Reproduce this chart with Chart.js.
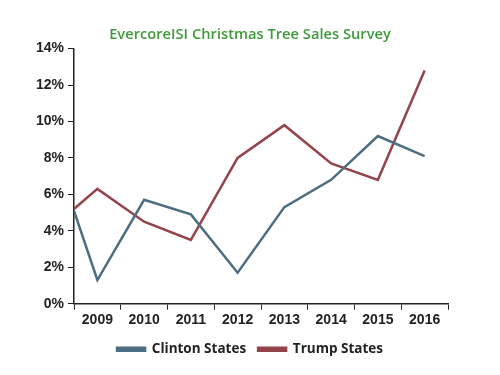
<!DOCTYPE html>
<html>
<head>
<meta charset="utf-8">
<script src="https://cdn.jsdelivr.net/npm/chart.js@4"></script>
<style>
  html, body { margin: 0; padding: 0; background: #fff; }
  #wrap { width: 500px; height: 375px; }
</style>
</head>
<body>
<div id="wrap"><canvas id="grafico" width="500" height="375"></canvas></div>
<script>
const anos = ['2009', '2010', '2011', '2012', '2013', '2014', '2015', '2016'];
// first point sits on the y axis, the rest on each year's centre
const posicoes = [-0.5, 0, 1, 2, 3, 4, 5, 6, 7];
const clinton = [5.1, 1.3, 5.7, 4.9, 1.7, 5.3, 6.8, 9.2, 8.1];
const trump = [5.2, 6.3, 4.5, 3.5, 8.0, 9.8, 7.7, 6.8, 12.8];
const yTicks = [0, 2, 4, 6, 8, 10, 12, 14];

const pontos = vals => vals.map((v, i) => ({ x: posicoes[i], y: v }));

const fonteEixo = { family: 'Liberation Sans', size: 14, weight: 'bold' };

const config = {
  type: 'line',
  data: {
    datasets: [
      {
        label: 'Clinton States',
        data: pontos(clinton),
        borderColor: '#4d6d82',
        backgroundColor: '#4d6d82',
        borderWidth: 2.5,
        pointRadius: 0,
        tension: 0
      },
      {
        label: 'Trump States',
        data: pontos(trump),
        borderColor: '#94454c',
        backgroundColor: '#94454c',
        borderWidth: 2.5,
        pointRadius: 0,
        tension: 0
      }
    ]
  },
  options: {
    responsive: false,
    animation: false,
    layout: { padding: { left: 0, right: 0, top: 4, bottom: 9 } },
    plugins: {
      title: {
        display: true,
        text: 'EvercoreISI Christmas Tree Sales Survey',
        color: '#3f9a3c',
        font: { family: 'Open Sans', size: 14.7, weight: '600' },
        padding: { top: 22, bottom: 5 }
      },
      legend: {
        position: 'bottom',
        labels: {
          boxWidth: 28,
          boxHeight: 3,
          color: '#222',
          padding: 12,
          font: { family: 'Open Sans', size: 13.5, weight: 'bold' }
        }
      },
      tooltip: { enabled: false }
    },
    scales: {
      x: {
        type: 'linear',
        min: -0.5,
        max: 7.5,
        afterBuildTicks: s => {
          const t = [];
          for (let v = -0.5; v <= 7.5; v += 0.5) t.push({ value: v });
          s.ticks = t;
        },
        ticks: {
          autoSkip: false,
          maxRotation: 0,
          color: '#222',
          font: fonteEixo,
          padding: 2,
          callback: v => Number.isInteger(v) ? anos[v] : ''
        },
        grid: {
          drawOnChartArea: false,
          tickLength: 6,
          tickColor: ctx => Number.isInteger(ctx.tick.value) ? 'rgba(0,0,0,0)' : '#222'
        },
        border: { color: '#222', width: 1.5 }
      },
      y: {
        min: 0,
        max: 14,
        afterBuildTicks: s => { s.ticks = yTicks.map(v => ({ value: v })); },
        afterFit: s => { s.width = 74; },
        ticks: {
          color: '#222',
          font: fonteEixo,
          padding: 4,
          callback: v => v + '%'
        },
        grid: { drawOnChartArea: false, tickLength: 6, tickColor: '#222' },
        border: { color: '#222', width: 1.5 }
      },
      // empty right margin so title and legend centre on the whole canvas
      margem: {
        type: 'linear',
        position: 'right',
        afterFit: s => { s.width = 52; },
        ticks: { display: false },
        grid: { display: false },
        border: { display: false }
      }
    }
  }
};

new Chart(document.getElementById('grafico'), config);
</script>
</body>
</html>
